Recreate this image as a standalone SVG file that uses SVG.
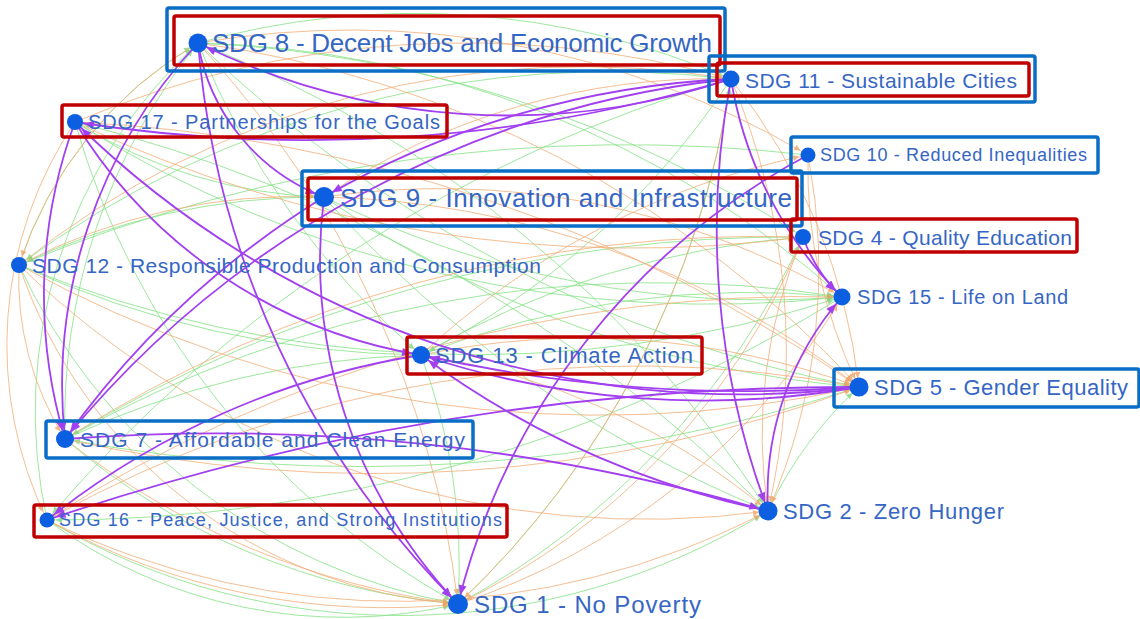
<svg xmlns="http://www.w3.org/2000/svg" width="1140" height="619" viewBox="0 0 1140 619">
<style>
.g{fill:none;stroke:#86e486;stroke-width:1;opacity:.8}
.o{fill:none;stroke:#f3b07a;stroke-width:1;opacity:.8}
.p{fill:none;stroke:#a23ff0;stroke-width:1.8}
.dot{fill:#0b5fe0}
.lbl{font-family:"Liberation Sans",Arial,sans-serif;fill:#3566c4;dominant-baseline:central}
.bb{fill:none;stroke:#0a6dc6;stroke-width:3.5}
.rb{fill:none;stroke:#c00000;stroke-width:3.5}
</style>
<defs>
<marker id="ap" markerWidth="12" markerHeight="10" refX="19" refY="4" orient="auto" markerUnits="userSpaceOnUse" overflow="visible"><path d="M0,0 L10,4 L0,8 z" fill="#a23ff0"/></marker>
<marker id="ag" markerWidth="8" markerHeight="6" refX="15" refY="3" orient="auto" markerUnits="userSpaceOnUse" overflow="visible"><path d="M0,0 L6,3 L0,6 z" fill="#7bd87b"/></marker>
<marker id="ao" markerWidth="8" markerHeight="6" refX="15" refY="3" orient="auto" markerUnits="userSpaceOnUse" overflow="visible"><path d="M0,0 L6,3 L0,6 z" fill="#f0a468"/></marker>
</defs>
<rect width="1140" height="619" fill="#ffffff"/>
<g id="connectors">
<g marker-end="url(#ag)">
<path class="g" d="M19 265 A400 400 0 0 1 198 43"/>
<path class="g" d="M47 520 A500 500 0 0 1 198 43"/>
<path class="g" d="M65 439 A600 600 0 0 1 198 43"/>
<path class="g" d="M19 265 A1200 1200 0 0 0 842 297"/>
<path class="g" d="M75 122 A1200 1200 0 0 0 842 297"/>
<path class="g" d="M324 197 A1000 1000 0 0 0 842 297"/>
<path class="g" d="M65 439 A1200 1200 0 0 1 842 297"/>
<path class="g" d="M421 355 A900 900 0 0 1 842 297"/>
<path class="g" d="M198 43 A1000 1000 0 0 1 842 297"/>
<path class="g" d="M198 43 A1200 1200 0 0 1 803 237"/>
<path class="g" d="M198 43 A800 800 0 0 1 731 79"/>
<path class="g" d="M198 43 A1200 1200 0 0 1 768 511"/>
<path class="g" d="M198 43 A1300 1300 0 0 0 859 387"/>
<path class="g" d="M731 79 A1000 1000 0 0 0 19 265"/>
<path class="g" d="M731 79 A1400 1400 0 0 0 47 520"/>
<path class="g" d="M731 79 A800 800 0 0 1 421 355"/>
<path class="g" d="M47 520 A700 700 0 0 0 768 511"/>
<path class="g" d="M47 520 A500 500 0 0 0 458 604"/>
<path class="g" d="M19 265 A600 600 0 0 0 458 604"/>
<path class="g" d="M65 439 A700 700 0 0 0 458 604"/>
<path class="g" d="M75 122 A800 800 0 0 0 458 604"/>
<path class="g" d="M324 197 A1200 1200 0 0 0 768 511"/>
<path class="g" d="M421 355 A900 900 0 0 1 803 237"/>
<path class="g" d="M19 265 A1000 1000 0 0 0 421 355"/>
<path class="g" d="M65 439 A900 900 0 0 1 421 355"/>
<path class="g" d="M803 237 A1400 1400 0 0 0 65 439"/>
<path class="g" d="M808 155 A1600 1600 0 0 0 19 265"/>
<path class="g" d="M859 387 A1600 1600 0 0 1 65 439"/>
<path class="g" d="M768 511 A1500 1500 0 0 0 75 122"/>
<path class="g" d="M842 297 A1500 1500 0 0 1 47 520"/>
<path class="g" d="M458 604 A900 900 0 0 0 731 79"/>
<path class="g" d="M458 604 A800 800 0 0 0 803 237"/>
<path class="g" d="M421 355 A600 600 0 0 1 458 604"/>
<path class="g" d="M324 197 A700 700 0 0 0 19 265"/>
<path class="g" d="M75 122 A500 500 0 0 0 324 197"/>
<path class="g" d="M198 43 A800 800 0 0 0 421 355"/>
<path class="g" d="M324 197 A1100 1100 0 0 0 859 387"/>
<path class="g" d="M768 511 A400 400 0 0 1 859 387"/>
</g>
<g marker-end="url(#ao)">
<path class="o" d="M19 265 A1200 1200 0 0 0 859 387"/>
<path class="o" d="M75 122 A1500 1500 0 0 1 859 387"/>
<path class="o" d="M198 43 A1100 1100 0 0 1 859 387"/>
<path class="o" d="M324 197 A900 900 0 0 1 859 387"/>
<path class="o" d="M65 439 A1400 1400 0 0 0 859 387"/>
<path class="o" d="M421 355 A800 800 0 0 1 859 387"/>
<path class="o" d="M47 520 A1200 1200 0 0 1 859 387"/>
<path class="o" d="M731 79 A600 600 0 0 1 859 387"/>
<path class="o" d="M808 155 A500 500 0 0 0 859 387"/>
<path class="o" d="M19 265 A900 900 0 0 0 768 511"/>
<path class="o" d="M198 43 A1000 1000 0 0 1 458 604"/>
<path class="o" d="M19 265 A500 500 0 0 0 458 604"/>
<path class="o" d="M47 520 A700 700 0 0 0 458 604"/>
<path class="o" d="M65 439 A800 800 0 0 0 458 604"/>
<path class="o" d="M731 79 A900 900 0 0 1 458 604"/>
<path class="o" d="M803 237 A700 700 0 0 1 458 604"/>
<path class="o" d="M808 155 A600 600 0 0 1 768 511"/>
<path class="o" d="M803 237 A500 500 0 0 0 768 511"/>
<path class="o" d="M731 79 A700 700 0 0 1 768 511"/>
<path class="o" d="M198 43 A400 400 0 0 0 19 265"/>
<path class="o" d="M75 122 A400 400 0 0 0 47 520"/>
<path class="o" d="M19 265 A300 300 0 0 0 65 439"/>
<path class="o" d="M198 43 A900 900 0 0 1 808 155"/>
<path class="o" d="M75 122 A1000 1000 0 0 1 731 79"/>
<path class="o" d="M324 197 A700 700 0 0 1 731 79"/>
<path class="o" d="M19 265 A900 900 0 0 1 731 79"/>
<path class="o" d="M75 122 A1300 1300 0 0 0 803 237"/>
<path class="o" d="M324 197 A800 800 0 0 1 842 297"/>
<path class="o" d="M47 520 A1400 1400 0 0 1 842 297"/>
<path class="o" d="M421 355 A700 700 0 0 1 768 511"/>
<path class="o" d="M19 265 A600 600 0 0 1 324 197"/>
<path class="o" d="M65 439 A1300 1300 0 0 1 803 237"/>
<path class="o" d="M458 604 A700 700 0 0 0 842 297"/>
<path class="o" d="M421 355 A800 800 0 0 1 808 155"/>
<path class="o" d="M47 520 A800 800 0 0 0 768 511"/>
</g>
<g marker-end="url(#ap)">
<path class="p" d="M731 79 A700 700 0 0 1 198 43"/>
<path class="p" d="M731 79 A1500 1500 0 0 1 75 122"/>
<path class="p" d="M731 79 A900 900 0 0 0 324 197"/>
<path class="p" d="M731 79 A1000 1000 0 0 0 65 439"/>
<path class="p" d="M731 79 A800 800 0 0 0 768 511"/>
<path class="p" d="M731 79 A400 400 0 0 0 842 297"/>
<path class="p" d="M198 43 A200 200 0 0 0 324 197"/>
<path class="p" d="M198 43 A900 900 0 0 0 458 604"/>
<path class="p" d="M198 43 A500 500 0 0 0 65 439"/>
<path class="p" d="M75 122 A500 500 0 0 0 65 439"/>
<path class="p" d="M75 122 A500 500 0 0 0 421 355"/>
<path class="p" d="M859 387 A950 950 0 0 1 75 122"/>
<path class="p" d="M324 197 A500 500 0 0 0 458 604"/>
<path class="p" d="M324 197 A900 900 0 0 0 65 439"/>
<path class="p" d="M808 155 A700 700 0 0 0 458 604"/>
<path class="p" d="M768 511 A900 900 0 0 1 421 355"/>
<path class="p" d="M859 387 A1500 1500 0 0 1 421 355"/>
<path class="p" d="M859 387 A900 900 0 0 1 421 355"/>
<path class="p" d="M65 439 A2000 2000 0 0 1 768 511"/>
<path class="p" d="M421 355 A800 800 0 0 0 47 520"/>
<path class="p" d="M859 387 A2500 2500 0 0 0 47 520"/>
<path class="p" d="M768 511 A300 300 0 0 1 842 297"/>
<path class="p" d="M803 237 A150 150 0 0 0 842 297"/>
</g>
</g>
<g id="sdg8"><circle class="dot" cx="198" cy="43" r="9.5"/><text class="lbl" x="212" y="43" font-size="26" textLength="500" lengthAdjust="spacing">SDG 8 - Decent Jobs and Economic Growth</text></g>
<g id="sdg11"><circle class="dot" cx="731" cy="79" r="8.5"/><text class="lbl" x="745" y="80" font-size="21" textLength="272" lengthAdjust="spacing">SDG 11 - Sustainable Cities</text></g>
<g id="sdg10"><circle class="dot" cx="808" cy="155" r="7.5"/><text class="lbl" x="820" y="155" font-size="18" textLength="267" lengthAdjust="spacing">SDG 10 - Reduced Inequalities</text></g>
<g id="sdg17"><circle class="dot" cx="75" cy="122" r="8"/><text class="lbl" x="88" y="122" font-size="20" textLength="352" lengthAdjust="spacing">SDG 17 - Partnerships for the Goals</text></g>
<g id="sdg9"><circle class="dot" cx="324" cy="197" r="10"/><text class="lbl" x="340" y="198" font-size="26" textLength="452" lengthAdjust="spacing">SDG 9 - Innovation and Infrastructure</text></g>
<g id="sdg4"><circle class="dot" cx="803" cy="237" r="8"/><text class="lbl" x="818" y="237" font-size="21" textLength="254" lengthAdjust="spacing">SDG 4 - Quality Education</text></g>
<g id="sdg12"><circle class="dot" cx="19" cy="265" r="8"/><text class="lbl" x="32" y="265" font-size="21" textLength="509" lengthAdjust="spacing">SDG 12 - Responsible Production and Consumption</text></g>
<g id="sdg15"><circle class="dot" cx="842" cy="297" r="8.5"/><text class="lbl" x="857" y="297" font-size="20" textLength="211" lengthAdjust="spacing">SDG 15 - Life on Land</text></g>
<g id="sdg13"><circle class="dot" cx="421" cy="355" r="9"/><text class="lbl" x="435" y="355" font-size="22" textLength="258" lengthAdjust="spacing">SDG 13 - Climate Action</text></g>
<g id="sdg5"><circle class="dot" cx="859" cy="387" r="9.5"/><text class="lbl" x="874" y="387" font-size="22" textLength="254" lengthAdjust="spacing">SDG 5 - Gender Equality</text></g>
<g id="sdg7"><circle class="dot" cx="65" cy="439" r="9"/><text class="lbl" x="80" y="439" font-size="21" textLength="385" lengthAdjust="spacing">SDG 7 - Affordable and Clean Energy</text></g>
<g id="sdg16"><circle class="dot" cx="47" cy="520" r="7.5"/><text class="lbl" x="59" y="520" font-size="18" textLength="443" lengthAdjust="spacing">SDG 16 - Peace, Justice, and Strong Institutions</text></g>
<g id="sdg2"><circle class="dot" cx="768" cy="511" r="9.5"/><text class="lbl" x="783" y="511" font-size="22" textLength="221" lengthAdjust="spacing">SDG 2 - Zero Hunger</text></g>
<g id="sdg1"><circle class="dot" cx="458" cy="604" r="10"/><text class="lbl" x="474" y="604" font-size="24" textLength="227" lengthAdjust="spacing">SDG 1 - No Poverty</text></g>
<g id="highlights">
<rect class="bb" x="167" y="8" width="558" height="63" rx="2"/>
<rect class="rb" x="174" y="16" width="546" height="49" rx="2"/>
<rect class="bb" x="709" y="56" width="326" height="46" rx="2"/>
<rect class="rb" x="717" y="63" width="312" height="33" rx="2"/>
<rect class="bb" x="791" y="137" width="307" height="36" rx="2"/>
<rect class="rb" x="62" y="105" width="385" height="32" rx="2"/>
<rect class="bb" x="302" y="171" width="500" height="55" rx="2"/>
<rect class="rb" x="308" y="178" width="489" height="42" rx="2"/>
<rect class="rb" x="791" y="219" width="286" height="33" rx="2"/>
<rect class="rb" x="407" y="337" width="295" height="37" rx="2"/>
<rect class="bb" x="834" y="369" width="305" height="38" rx="2"/>
<rect class="bb" x="46" y="421" width="427" height="37" rx="2"/>
<rect class="rb" x="34" y="505" width="473" height="32" rx="2"/>
</g>
</svg>
